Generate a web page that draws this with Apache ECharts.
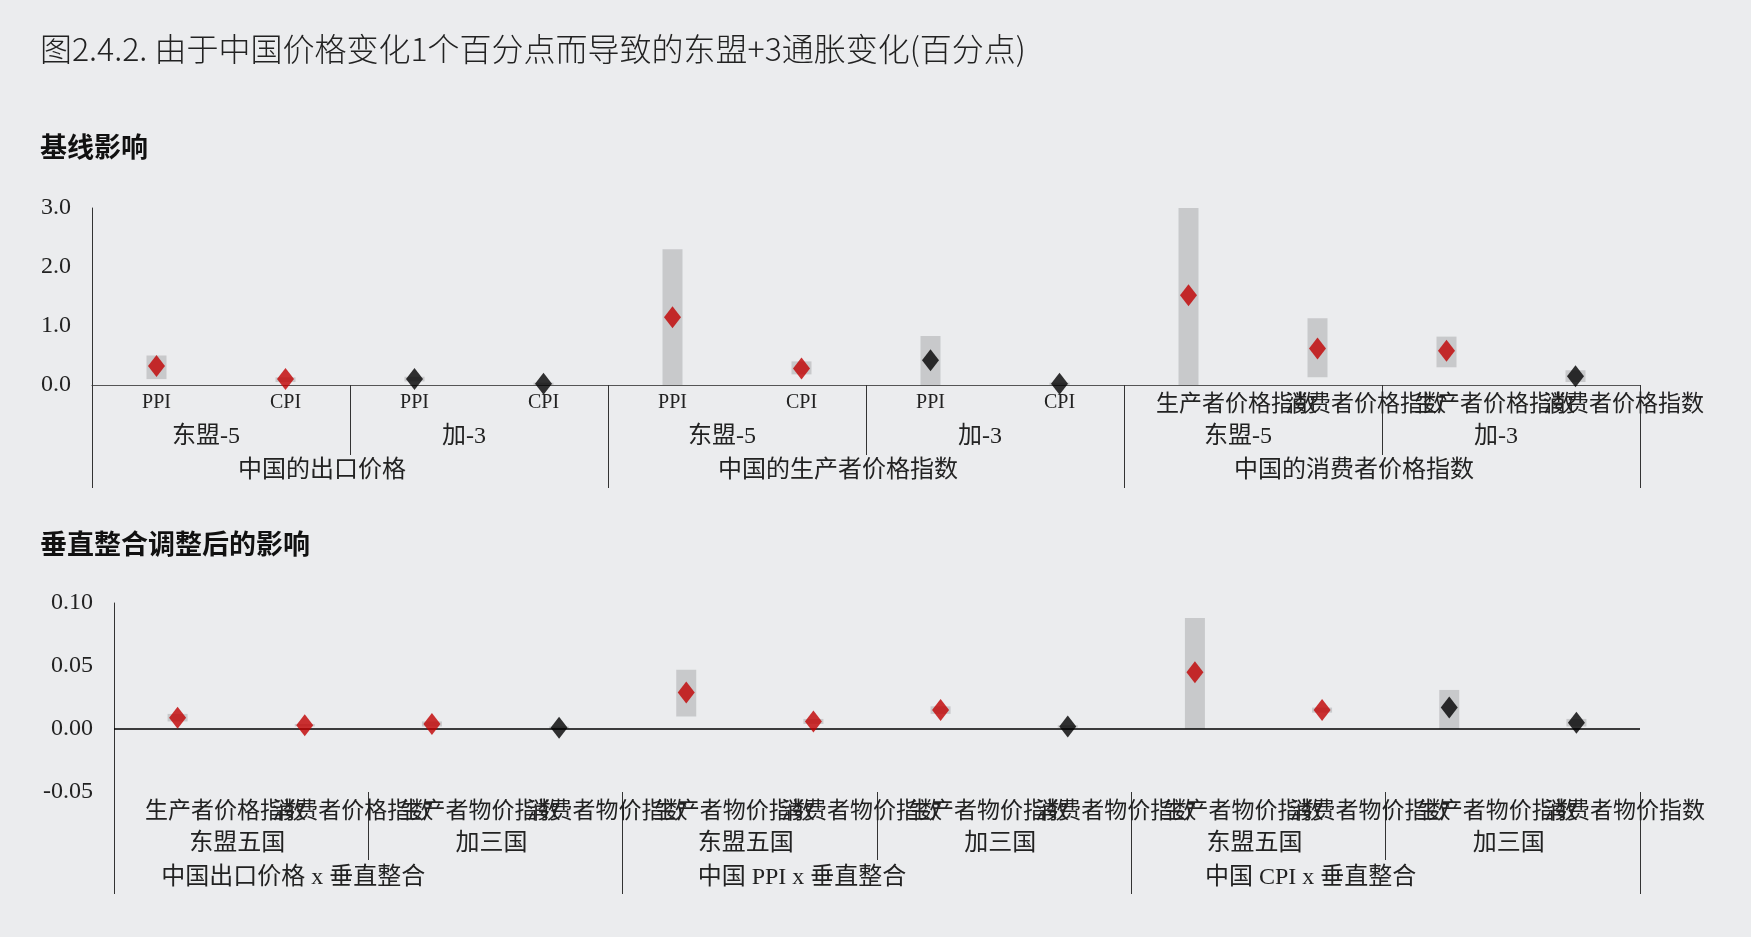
<!DOCTYPE html>
<html>
<head>
<meta charset="utf-8">
<script src="https://cdn.jsdelivr.net/npm/echarts@6/dist/echarts.min.js"></script>
<style>
html, body { margin: 0; padding: 0; background: #ebecee; }
#container { width: 1751px; height: 937px; }
</style>
</head>
<body>
<div id="container"></div>
<script>
var dom = document.getElementById('container');
var myChart = echarts.init(dom);

// 基线影响
let topLevel1 = ['PPI', 'CPI', 'PPI', 'CPI', 'PPI', 'CPI', 'PPI', 'CPI', '生产者价格指数', '消费者价格指数', '生产者价格指数', '消费者价格指数']
let topLevel2 = ['东盟-5', '加-3', '东盟-5', '加-3', '东盟-5', '加-3']
let topLevel3 = ['中国的出口价格', '中国的生产者价格指数', '中国的消费者价格指数']
let topMid = [0.32, 0.10, 0.10, 0.02, 1.15, 0.28, 0.42, 0.02, 1.52, 0.62, 0.58, 0.15]
let topLow = [0.10, 0.05, 0.06, 0.00, 0.00, 0.18, 0.00, 0.00, 0.00, 0.13, 0.30, 0.05]
let topHigh = [0.50, 0.13, 0.14, 0.04, 2.30, 0.40, 0.83, 0.04, 3.00, 1.13, 0.82, 0.25]
let topRed = [1, 1, 0, 0, 1, 1, 0, 0, 1, 1, 1, 0]

// 垂直整合调整后的影响
let botLevel1 = ['生产者价格指数', '消费者价格指数', '生产者物价指数', '消费者物价指数', '生产者物价指数', '消费者物价指数', '生产者物价指数', '消费者物价指数', '生产者物价指数', '消费者物价指数', '生产者物价指数', '消费者物价指数']
let botLevel2 = ['东盟五国', '加三国', '东盟五国', '加三国', '东盟五国', '加三国']
let botLevel3 = ['中国出口价格 x 垂直整合', '中国 PPI x 垂直整合', '中国 CPI x 垂直整合']
let botMid = [0.009, 0.003, 0.004, 0.001, 0.029, 0.006, 0.015, 0.002, 0.045, 0.015, 0.017, 0.005]
let botLow = [0.006, 0.002, 0.002, 0.000, 0.010, 0.004, 0.012, 0.001, 0.000, 0.013, 0.000, 0.002]
let botHigh = [0.012, 0.004, 0.006, 0.002, 0.047, 0.008, 0.018, 0.003, 0.088, 0.017, 0.031, 0.008]
let botRed = [1, 1, 1, 0, 1, 1, 1, 0, 1, 1, 0, 0]

let yTopTicks = [0, 1, 2, 3]
let yBotTicks = [-0.05, 0, 0.05, 0.10]

const serif = '"Liberation Serif", "Noto Sans CJK SC", serif'
const cjk = '"Noto Sans CJK SC", sans-serif'

// shift: 正数右移, 负数左移 (像素)
function catAxis(grid, data, margin, tickLen, showLine, fontSize, shift) {
    let pad = shift > 0 ? [0, 0, 0, 2 * shift] : [0, -2 * shift, 0, 0]
    return {
        type: 'category',
        gridIndex: grid,
        position: 'bottom',
        data: data,
        axisLine: { show: showLine, onZero: false, lineStyle: { color: '#555', width: 1.2 } },
        axisTick: tickLen ? { show: true, length: tickLen, lineStyle: { color: '#333' } } : { show: false },
        axisLabel: {
            interval: 0, margin: margin, color: '#222', fontFamily: serif, fontSize: fontSize,
            padding: pad,
            formatter: function (v) { return v.length > 4 && fontSize < 24 ? '{w|' + v + '}' : v },
            rich: { w: { fontSize: 23, fontFamily: serif, color: '#222', padding: [0, 0, 0, 96] } }
        }
    }
}

function valAxis(grid, min, max, interval, digits) {
    return {
        type: 'value',
        gridIndex: grid,
        min: min, max: max, interval: interval,
        splitLine: { show: false },
        axisLine: { show: true, lineStyle: { color: '#333' } },
        axisTick: { show: false },
        axisLabel: {
            color: '#222', fontFamily: serif, fontSize: 24, margin: 21,
            formatter: function (v) { return v.toFixed(digits) }
        }
    }
}

function seriesFor(grid, xIdx, yIdx, low, high, mid, red, zeroLine) {
    let s = [{
        type: 'bar', stack: 'r' + grid, xAxisIndex: xIdx, yAxisIndex: yIdx,
        barWidth: 20, silent: true,
        itemStyle: { color: 'transparent' },
        data: low
    }, {
        type: 'bar', stack: 'r' + grid, xAxisIndex: xIdx, yAxisIndex: yIdx,
        barWidth: 20,
        itemStyle: { color: '#c8c9cb' },
        data: high.map(function (h, i) { return +(h - low[i]).toFixed(4) })
    }, {
        type: 'scatter', xAxisIndex: xIdx, yAxisIndex: yIdx,
        symbol: 'diamond', symbolSize: [17, 22], z: 5,
        data: mid.map(function (v, i) {
            return { value: v, itemStyle: { color: red[i] ? '#c00000' : '#000' } }
        })
    }]
    if (zeroLine) {
        s[2].markLine = {
            silent: true, symbol: 'none', label: { show: false },
            lineStyle: { color: '#000', type: 'solid', width: 1.5 },
            data: [{ yAxis: 0 }]
        }
    }
    return s
}

option = {
    backgroundColor: '#ebecee',
    animation: false,
    title: [
        { text: '图2.4.2. 由于中国价格变化1个百分点而导致的东盟+3通胀变化(百分点)', left: 35, top: 28,
          textStyle: { fontFamily: cjk, fontWeight: 300, fontSize: 32, color: '#222' } },
        { text: '基线影响', left: 35, top: 128,
          textStyle: { fontFamily: cjk, fontWeight: 'bold', fontSize: 27, color: '#111' } },
        { text: '垂直整合调整后的影响', left: 35, top: 525,
          textStyle: { fontFamily: cjk, fontWeight: 'bold', fontSize: 27, color: '#111' } }
    ],
    grid: [
        { left: 92, right: 111, top: 208, height: 177 },
        { left: 114, right: 111, top: 603, height: 189 }
    ],
    xAxis: [
        catAxis(0, topLevel1, 8, 0, true, 20, 0),
        catAxis(0, topLevel2, 40, 70, false, 24, -15),
        catAxis(0, topLevel3, 74, 103, false, 24, -28),
        catAxis(1, botLevel1, 8, 0, false, 23, 0),
        catAxis(1, botLevel2, 40, 68, false, 24, -4),
        catAxis(1, botLevel3, 74, 102, false, 24, -75)
    ],
    yAxis: [
        valAxis(0, yTopTicks[0], yTopTicks[3], 1, 1),
        valAxis(1, yBotTicks[0], yBotTicks[3], 0.05, 2)
    ],
    series: seriesFor(0, 0, 0, topLow, topHigh, topMid, topRed, false)
        .concat(seriesFor(1, 3, 1, botLow, botHigh, botMid, botRed, true))
};
myChart.setOption(option);

window.addEventListener("resize", function () {
    myChart.resize();
});
</script>
</body>
</html>
